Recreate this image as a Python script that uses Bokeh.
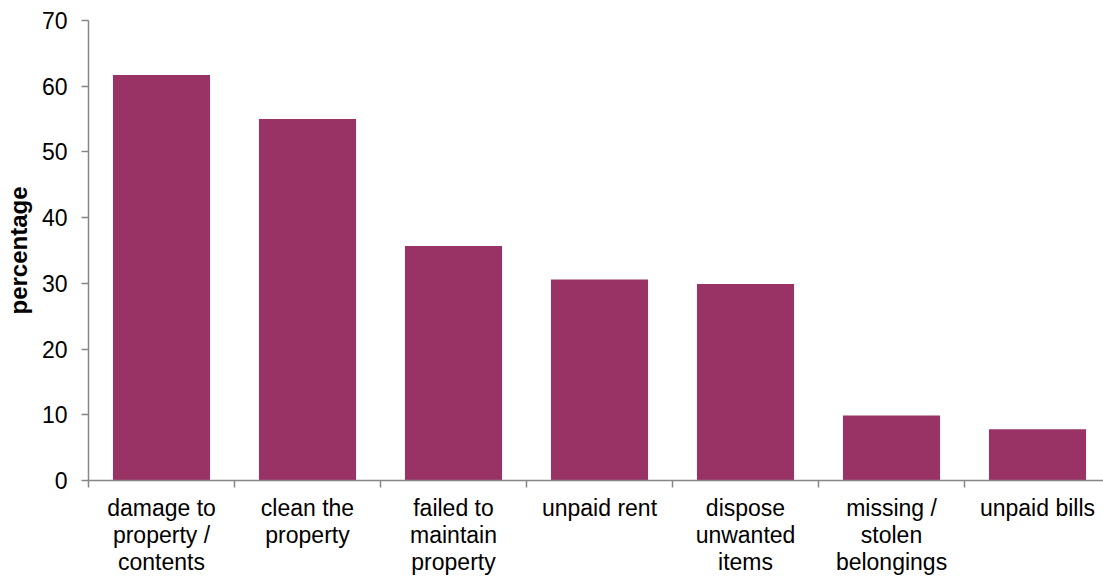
from bokeh.plotting import figure
from bokeh.models import FixedTicker, Range1d
from bokeh.embed import file_html
from bokeh.resources import INLINE

categories = ["damage to\nproperty /\ncontents", "clean the\nproperty", "failed to\nmaintain\nproperty",
              "unpaid rent", "dispose\nunwanted\nitems", "missing /\nstolen\nbelongings", "unpaid bills"]
values = [61.7, 55.0, 35.7, 30.6, 29.9, 9.9, 7.8]
y_ticks = [0, 10, 20, 30, 40, 50, 60, 70]

n = len(categories)
centers = [i + 0.5 for i in range(n)]

p = figure(width=1103, height=578, output_backend="svg", toolbar_location=None,
           x_range=Range1d(0, 6.952), y_range=Range1d(0, 70),
           min_border_left=88, min_border_right=0, min_border_top=20, min_border_bottom=98)
p.outline_line_color = None
p.xgrid.visible = False
p.ygrid.visible = False

p.vbar(x=centers, top=values, width=0.665, bottom=0, fill_color="#993366", line_color=None)

axis_col = "#868686"
font = "Liberation Sans"

xa = p.xaxis[0]
xa.ticker = FixedTicker(ticks=centers, minor_ticks=list(range(n + 1)))
xa.major_label_overrides = {c: lab for c, lab in zip(centers, categories)}
xa.major_tick_out = 0
xa.major_tick_in = 0
xa.minor_tick_out = 7
xa.minor_tick_in = 0
xa.minor_tick_line_color = axis_col
xa.axis_line_color = axis_col
xa.axis_line_width = 1.5
xa.minor_tick_line_width = 1.5
xa.major_label_text_font = font
xa.major_label_text_font_size = "23px"
xa.major_label_text_line_height = 1.04
xa.major_label_text_color = "#000000"
xa.major_label_standoff = 7

ya = p.yaxis[0]
ya.ticker = FixedTicker(ticks=y_ticks, minor_ticks=[])
ya.major_tick_out = 7
ya.major_tick_in = 0
ya.major_tick_line_color = axis_col
ya.axis_line_color = axis_col
ya.axis_line_width = 1.5
ya.major_tick_line_width = 1.5
ya.major_label_text_font = font
ya.major_label_text_font_size = "23px"
ya.major_label_text_color = "#000000"
ya.major_label_standoff = 14
ya.axis_label = "percentage"
ya.axis_label_text_font = font
ya.axis_label_text_font_style = "bold"
ya.axis_label_text_font_size = "24px"
ya.axis_label_text_color = "#000000"
ya.axis_label_standoff = 7

open("out.html", "w").write(file_html(p, INLINE))
